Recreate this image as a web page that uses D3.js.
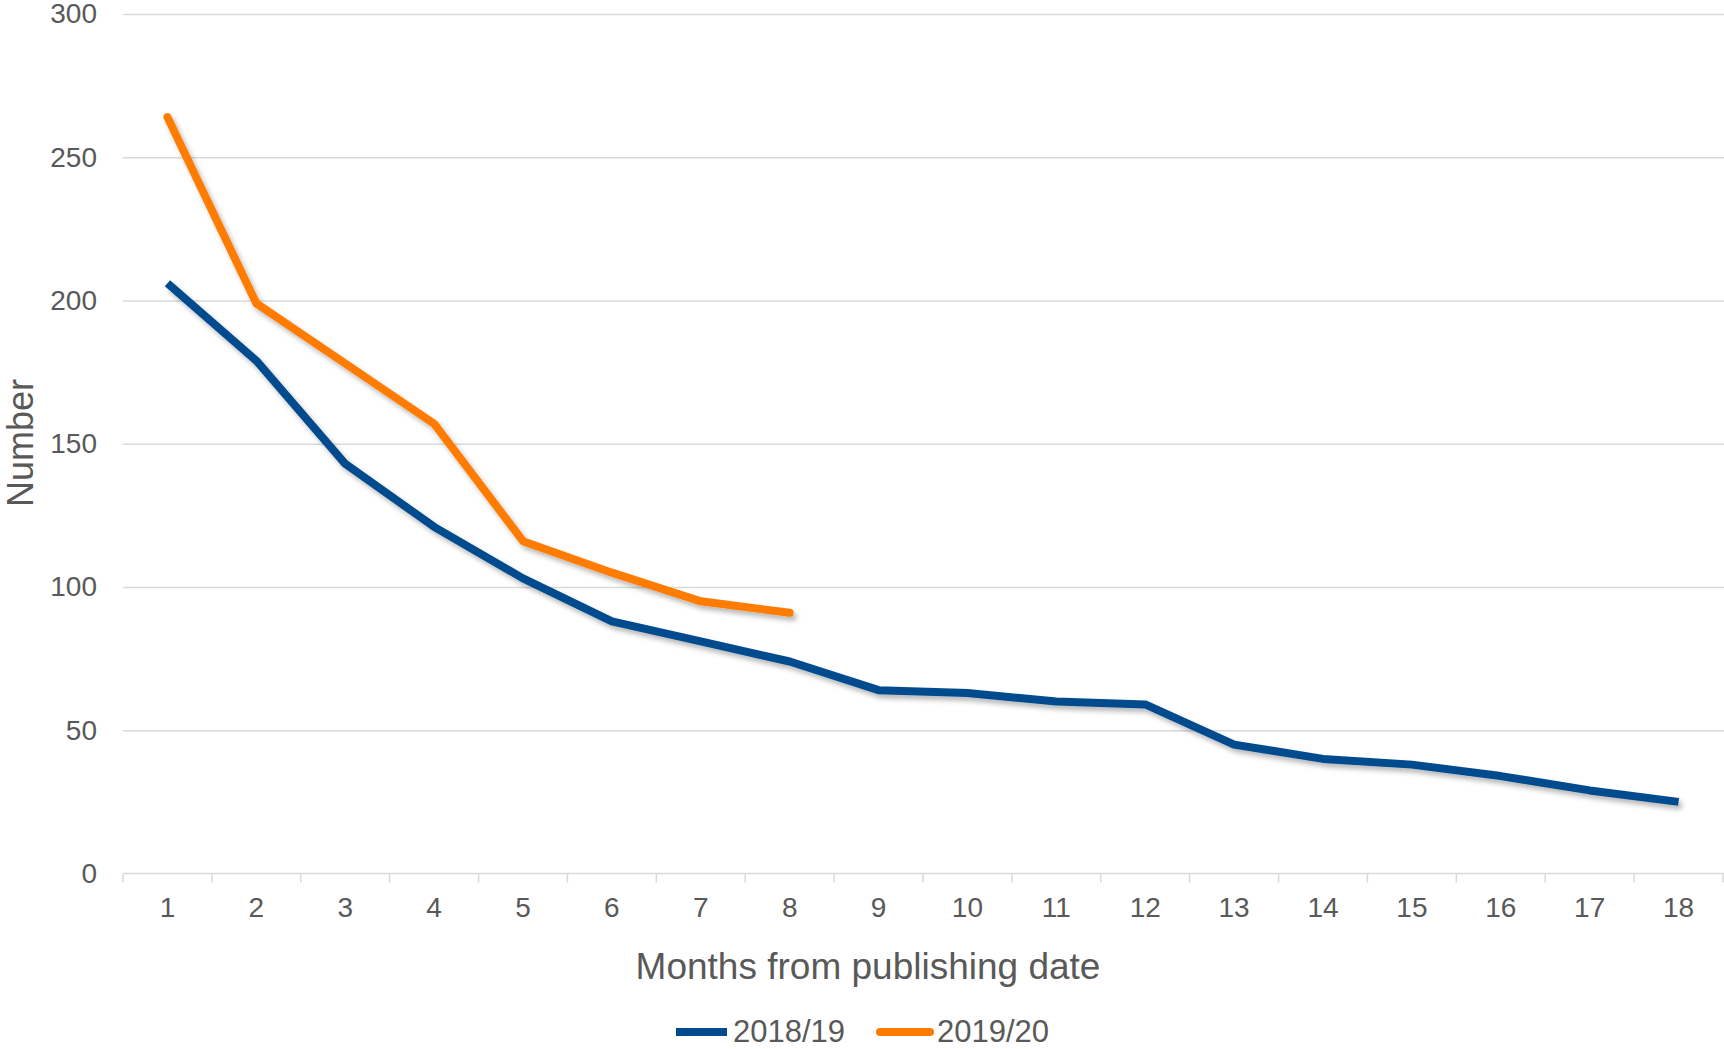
<!DOCTYPE html>
<html>
<head>
<meta charset="utf-8">
<script src="https://cdn.jsdelivr.net/npm/d3@7"></script>
<style>
  html, body { margin: 0; padding: 0; background: #ffffff; }
  svg { display: block; font-family: "Liberation Sans", Arial, sans-serif; }
</style>
</head>
<body>
<svg id="chart" width="1724" height="1049"></svg>
<script>
// Months since publication (x categories)
const months = [1, 2, 3, 4, 5, 6, 7, 8, 9, 10, 11, 12, 13, 14, 15, 16, 17, 18];
// Counts per month for each cohort
const values2018 = [206, 179, 143, 121, 103, 88, 81, 74, 64, 63, 60, 59, 45, 40, 38, 34, 29, 25];
const values2019 = [264, 199, 178, 157, 116, 105, 95, 91];
const seriesNames = ["2018/19", "2019/20"];
const yTicks = [0, 50, 100, 150, 200, 250, 300];

const svg = d3.select("#chart");
const W = 1724;
const plot = { left: 123, right: 1723, top: 14, bottom: 873.5 };
const textColor = "#595959";
const gridColor = "#d9d9d9";
const colors = ["#004b8d", "#ff7b00"];

const x = d3.scaleBand().domain(months).range([plot.left, plot.right]).padding(0);
const y = d3.scaleLinear().domain([0, 300]).range([plot.bottom, plot.top]);
const cx = d => x(d) + x.bandwidth() / 2;

// soft drop shadow under the lines
const defs = svg.append("defs");
const f = defs.append("filter").attr("id", "shadow")
  .attr("x", "-5%").attr("y", "-5%").attr("width", "110%").attr("height", "120%");
f.append("feDropShadow").attr("dx", 3).attr("dy", 4).attr("stdDeviation", 2.5)
  .attr("flood-color", "#000").attr("flood-opacity", 0.28);

// horizontal gridlines
const grid = svg.append("g").attr("transform", `translate(${plot.left},0)`)
  .call(d3.axisLeft(y).tickValues(yTicks.filter(v => v > 0)).tickSize(-(W - plot.left)).tickFormat(""));
grid.select(".domain").remove();
grid.selectAll(".tick line").attr("stroke", gridColor).attr("stroke-width", 1.5);

// y axis labels
const yAxis = svg.append("g").attr("transform", `translate(${plot.left},0)`)
  .call(d3.axisLeft(y).tickValues(yTicks).tickSize(0).tickPadding(26));
yAxis.select(".domain").remove();
yAxis.selectAll("text").attr("fill", textColor).attr("font-size", 28)
  .attr("font-family", "'Liberation Sans', Arial, sans-serif");

// x axis: baseline, boundary ticks, centred labels
const xg = svg.append("g").attr("transform", `translate(0,${plot.bottom})`);
xg.append("line").attr("x1", plot.left).attr("x2", W)
  .attr("stroke", gridColor).attr("stroke-width", 1.5);
const bounds = months.map(m => x(m)).concat([x.range()[1]]);
xg.selectAll("line.tk").data(bounds).join("line").attr("class", "tk")
  .attr("x1", d => d).attr("x2", d => d).attr("y1", 0).attr("y2", 9)
  .attr("stroke", gridColor).attr("stroke-width", 1.5);
const xAxis = xg.append("g").call(d3.axisBottom(x).tickSize(0).tickPadding(24));
xAxis.select(".domain").remove();
xAxis.selectAll("text").attr("fill", textColor).attr("font-size", 28)
  .attr("font-family", "'Liberation Sans', Arial, sans-serif");

// axis titles
svg.append("text").attr("x", 868).attr("y", 979).attr("text-anchor", "middle")
  .attr("fill", textColor).attr("font-size", 37).text("Months from publishing date");
svg.append("text").attr("transform", "translate(33,443) rotate(-90)").attr("text-anchor", "middle")
  .attr("fill", textColor).attr("font-size", 36).text("Number");

// series lines
const line = d3.line().x((d, i) => cx(months[i])).y(d => y(d));
svg.append("path").datum(values2018).attr("d", line)
  .attr("fill", "none").attr("stroke", colors[0]).attr("stroke-width", 8)
  .attr("stroke-linejoin", "round").attr("stroke-linecap", "butt").attr("filter", "url(#shadow)");
svg.append("path").datum(values2019).attr("d", line)
  .attr("fill", "none").attr("stroke", colors[1]).attr("stroke-width", 8)
  .attr("stroke-linejoin", "round").attr("stroke-linecap", "round").attr("filter", "url(#shadow)");

// legend
const legendItems = [
  { name: seriesNames[0], color: colors[0], x1: 676, x2: 727, cap: "butt", tx: 733 },
  { name: seriesNames[1], color: colors[1], x1: 880, x2: 930, cap: "round", tx: 937 }
];
const lg = svg.append("g");
lg.selectAll("line").data(legendItems).join("line")
  .attr("x1", d => d.x1).attr("x2", d => d.x2).attr("y1", 1032).attr("y2", 1032)
  .attr("stroke", d => d.color).attr("stroke-width", 8).attr("stroke-linecap", d => d.cap);
lg.selectAll("text").data(legendItems).join("text")
  .attr("x", d => d.tx).attr("y", 1042).attr("fill", textColor).attr("font-size", 31)
  .text(d => d.name);
</script>
</body>
</html>
